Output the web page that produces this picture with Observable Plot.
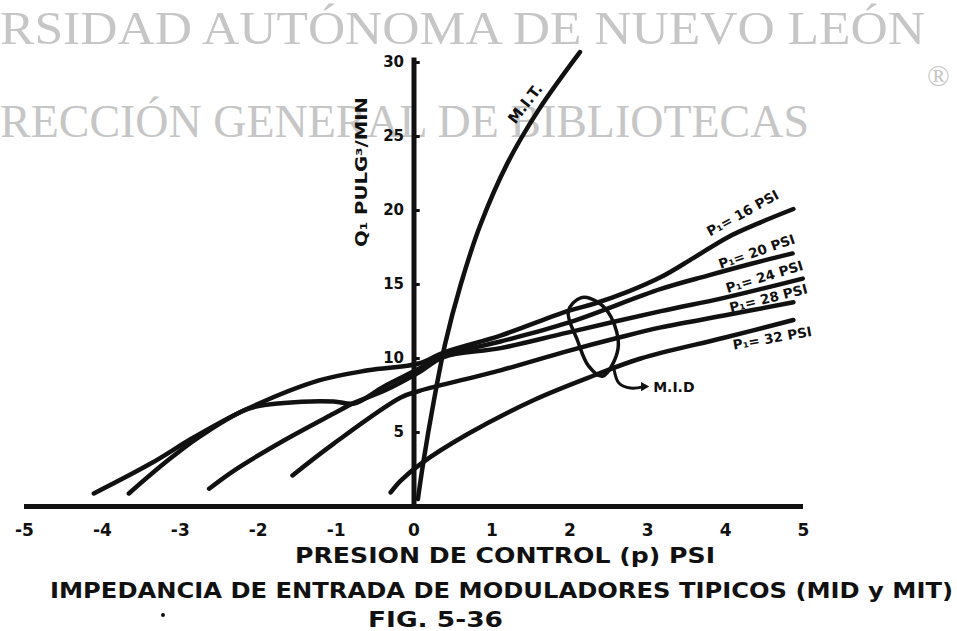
<!DOCTYPE html>
<html><head><meta charset="utf-8">
<script src="https://cdn.jsdelivr.net/npm/d3@7"></script>
<script src="https://cdn.jsdelivr.net/npm/@observablehq/plot@0.6"></script>
<style>
html,body{margin:0;padding:0;background:#fff;}
#wrap{position:relative;width:957px;height:631px;overflow:hidden;background:#fff;}
#bg,#chart{position:absolute;left:0;top:0;}
.wm{font-family:"Liberation Serif","DejaVu Serif",serif;fill:#c6c6c6;font-size:47px;}
.hw{font-family:"DejaVu Sans",sans-serif;font-weight:bold;fill:#111;}
</style></head><body>
<div id="wrap">
<svg id="bg" width="957" height="631">
  <text class="wm" x="0" y="44" textLength="925" lengthAdjust="spacingAndGlyphs">RSIDAD AUTÓNOMA DE NUEVO LEÓN</text>
  <text class="wm" x="0" y="137" textLength="809" lengthAdjust="spacingAndGlyphs">RECCIÓN GENERAL DE BIBLIOTECAS</text>
  <text class="wm" x="927" y="86" style="font-size:30px">®</text>
  <text class="hw" x="295" y="563" font-size="22" textLength="420" lengthAdjust="spacingAndGlyphs">PRESION DE CONTROL (p) PSI</text>
  <text class="hw" x="50" y="598" font-size="22" textLength="903" lengthAdjust="spacingAndGlyphs">IMPEDANCIA DE ENTRADA DE MODULADORES TIPICOS (MID y MIT)</text>
  <text class="hw" x="368" y="627" font-size="22" textLength="135" lengthAdjust="spacingAndGlyphs">FIG. 5-36</text>
  <text class="hw" transform="translate(367,247) rotate(-90)" font-size="16" textLength="150" lengthAdjust="spacingAndGlyphs">Q₁  PULG³/MIN</text>
  <circle cx="163" cy="615" r="2" fill="#111"></circle>
</svg>
<div id="chart"></div>
</div>
<script>
// Axis ticks
const xTicks = [-5, -4, -3, -2, -1, 0, 1, 2, 3, 4, 5];
const yTicks = [5, 10, 15, 20, 25, 30];

// M.I.T. curve
const mitX = [0.05, 0.12, 0.25, 0.4, 0.6, 0.85, 1.2, 1.6, 2.13];
const mitY = [0.5, 3.0, 7.0, 11.0, 15.0, 19.0, 23.2, 26.8, 30.7];

// M.I.D. curves, one per supply pressure P1
const p16X = [-4.11, -3.38, -2.83, -2.18, -1.23, -0.59, 0.06, 0.38, 1.11, 1.97, 2.31, 2.74, 3.17, 3.59, 4.03, 4.45, 4.87];
const p16Y = [0.88, 2.9, 4.66, 6.5, 8.5, 9.2, 9.66, 10.4, 11.55, 13.2, 13.7, 14.5, 15.5, 16.8, 18.2, 19.2, 20.1];
const p20X = [-3.66, -3.21, -2.77, -2.13, -1.67, -1.03, -0.77, -0.39, 0.06, 0.38, 1.11, 1.97, 3.17, 3.77, 4.33, 4.86];
const p20Y = [0.88, 2.9, 4.66, 6.6, 7.0, 7.1, 6.96, 8.1, 9.3, 10.2, 11.15, 12.4, 14.7, 15.6, 16.4, 17.1];
const p24X = [-2.63, -2.31, -1.67, -1.03, -0.77, -0.39, 0.06, 0.38, 1.11, 1.97, 3.17, 3.98, 4.99];
const p24Y = [1.2, 2.43, 4.46, 6.28, 7.0, 7.8, 9.05, 10.1, 10.7, 11.75, 13.2, 14.1, 15.4];
const p28X = [-1.56, -1.03, -0.17, 0.06, 1.11, 1.97, 2.62, 3.17, 3.98, 4.87];
const p28Y = [2.1, 4.25, 7.36, 7.8, 9.2, 10.5, 11.4, 12.1, 12.9, 13.8];
const p32X = [-0.3, -0.17, 0.09, 0.69, 1.54, 2.31, 2.91, 3.98, 4.87];
const p32Y = [0.95, 1.75, 2.9, 4.9, 7.2, 8.85, 10.0, 11.4, 12.6];

// Ellipse grouping the M.I.D. curves, and its pointer
const ringX = [2.14, 2.36, 2.53, 2.62, 2.42, 2.24, 2.1, 1.98];
const ringY = [14.1, 13.8, 12.8, 10.7, 8.8, 9.5, 11.2, 13.2];
const pointerX = [2.57, 2.63, 2.78, 2.95];
const pointerY = [9.2, 8.35, 8.0, 8.1];

// Curve labels
const curveLabels = ["P₁= 16 PSI", "P₁= 20 PSI", "P₁= 24 PSI", "P₁= 28 PSI", "P₁= 32 PSI"];
const labelX = [4.22, 4.4, 4.5, 4.55, 4.6];
const labelY = [19.8, 17.2, 15.5, 14.05, 11.35];
const labelAngle = [-29, -19, -17, -14, -10];

const series = [
  ["MIT", mitX, mitY], ["P16", p16X, p16Y], ["P20", p20X, p20Y],
  ["P24", p24X, p24Y], ["P28", p28X, p28Y], ["P32", p32X, p32Y]
];
const lines = series.flatMap(([name, xs, ys]) => xs.map((x, i) => ({name, x, y: ys[i]})));
const ring = ringX.map((x, i) => ({x, y: ringY[i]}));
const pointer = pointerX.map((x, i) => ({x, y: pointerY[i]}));
const labels = curveLabels.map((t, i) => ({t, x: labelX[i], y: labelY[i], a: labelAngle[i]}));

const font = {fontFamily: "DejaVu Sans", fontWeight: "bold", fill: "#111"};

const chart = Plot.plot({
  width: 957,
  height: 631,
  marginLeft: 24,
  marginRight: 154,
  marginTop: 62,
  marginBottom: 125,
  style: {background: "transparent", overflow: "visible"},
  x: {domain: [-5, 5], axis: null},
  y: {domain: [0, 30], axis: null},
  marks: [
    Plot.ruleY([0], {x1: -5, x2: 5, stroke: "#111", strokeWidth: 5}),
    Plot.ruleX([0], {y1: 0, y2: 30.3, stroke: "#111", strokeWidth: 5}),
    Plot.ruleY(yTicks, {x1: 0, x2: 0.08, stroke: "#111", strokeWidth: 3}),
    Plot.text(xTicks, {x: d => d, y: 0, text: d => (d < 0 ? "-" + (-d) : String(d)), dy: 24, fontSize: 17, ...font}),
    Plot.text(yTicks, {x: 0, y: d => d, text: d => String(d), textAnchor: "end", dx: -10, fontSize: 15, ...font}),
    Plot.line(lines, {x: "x", y: "y", z: "name", curve: "catmull-rom", stroke: "#111",
      strokeWidth: 4.5, strokeLinecap: "round", strokeLinejoin: "round"}),
    Plot.line(ring, {x: "x", y: "y", curve: "catmull-rom-closed", stroke: "#111", strokeWidth: 3.5}),
    Plot.line(pointer, {x: "x", y: "y", curve: "catmull-rom", stroke: "#111", strokeWidth: 3}),
    Plot.dot(pointer.slice(-1), {x: "x", y: "y", r: 3.5, fill: "#111", symbol: "triangle", rotate: 90}),
    Plot.text(["M.I.D"], {x: 3.07, y: 8.04, text: d => d, textAnchor: "start", fontSize: 14, ...font}),
    Plot.text(["M.I.T."], {x: 1.43, y: 27.2, text: d => d, rotate: -52, fontSize: 15, ...font}),
    Plot.text(labels, {x: "x", y: "y", text: "t", rotate: "a", fontSize: 13.5, ...font})
  ]
});
document.getElementById("chart").appendChild(chart);
</script>
</body></html>
